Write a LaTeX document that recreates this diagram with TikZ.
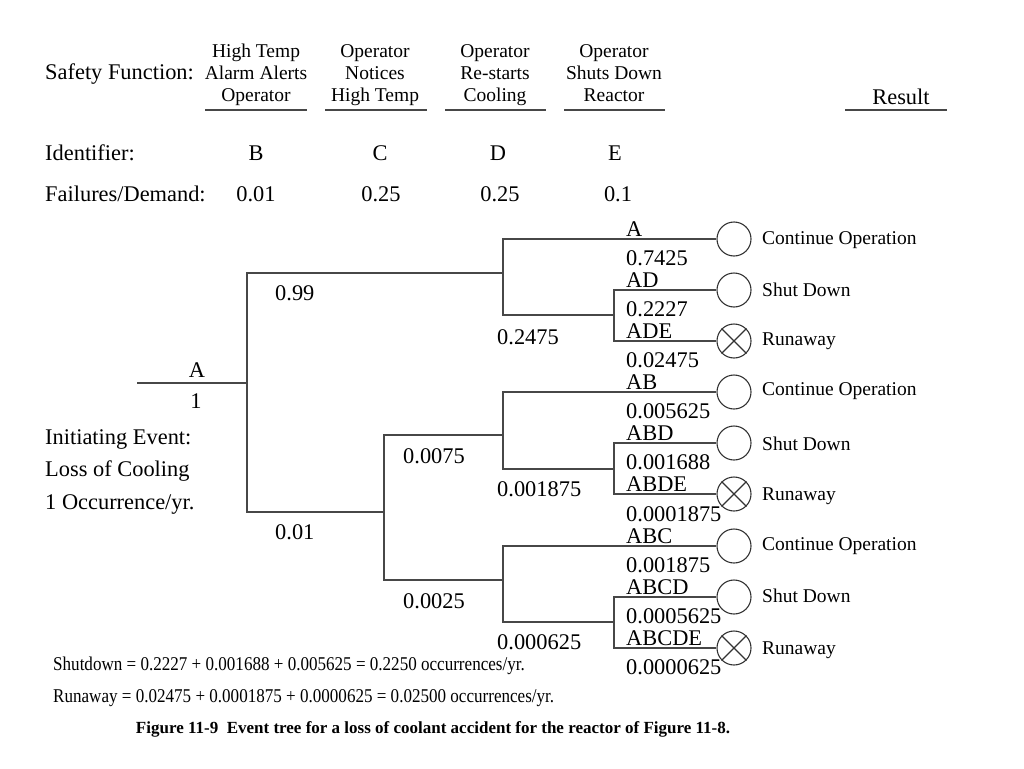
\documentclass[tikz,border=0pt]{standalone}
\usepackage{fontspec}
\setmainfont{Liberation Serif}
\begin{document}
\begin{tikzpicture}[x=1pt,y=-1pt,
  ln/.style={draw=black!72,line width=1.5pt},
  endc/.style={circle,draw=black!80,line width=1.1pt,minimum size=34pt,inner sep=0pt},
  big/.style={font=\fontsize{22.4}{26}\selectfont,inner sep=0pt},
  hdr/.style={font=\fontsize{19.5}{22}\selectfont,inner sep=0pt,align=center,anchor=north},
  res/.style={font=\fontsize{19.5}{22}\selectfont,inner sep=0pt,anchor=west},
  seq/.style={font=\fontsize{22.4}{26}\selectfont,inner sep=0pt,anchor=base west},
  foot/.style={font=\fontsize{19.5}{22}\selectfont,inner sep=0pt,anchor=base west}]
\useasboundingbox (0,0) rectangle (1024,768);

% header
\node[big,anchor=base west] (sf) at (45,79.5) {Safety Function:};
\node[hdr] (hB) at (256,42.1) {\strut High Temp\\\strut Alarm Alerts\\\strut Operator};
\node[hdr] (hC) at (375,42.1) {\strut Operator\\\strut Notices\\\strut High Temp};
\node[hdr] (hD) at (495,42.1) {\strut Operator\\\strut Re-starts\\\strut Cooling};
\node[hdr] (hE) at (614,42.1) {\strut Operator\\\strut Shuts Down\\\strut Reactor};
\node[big,anchor=base] (hR) at (901,104) {Result};
\draw[ln] (205,110) -- (307,110);
\draw[ln] (325,110) -- (427,110);
\draw[ln] (445,110) -- (546,110);
\draw[ln] (564,110) -- (665,110);
\draw[ln] (845,110) -- (947,110);

\node[big,anchor=west] (idl) at (45,153) {Identifier:};
\node[big] (iB) at (256,153) {B};
\node[big] (iC) at (380,153) {C};
\node[big] (iD) at (498,153) {D};
\node[big] (iE) at (615,153) {E};

\node[big,anchor=west] (fdl) at (45,194) {Failures/Demand:};
\node[big] (fB) at (256,194) {0.01};
\node[big] (fC) at (381,194) {0.25};
\node[big] (fD) at (500,194) {0.25};
\node[big] (fE) at (618,194) {0.1};

% initiating event
\node[big,anchor=west] (ie1) at (45,439) {Initiating Event:};
\node[big,anchor=west] (ie2) at (45,471) {Loss of Cooling};
\node[big,anchor=west] (ie3) at (45,504) {1 Occurrence/yr.};

% tree coordinates
\coordinate (s) at (137,383);
\coordinate (j0) at (247,383);
\coordinate (j1) at (503,273);
\coordinate (j2) at (384,512);
\coordinate (j3) at (503,435);
\coordinate (j4) at (503,580);
\coordinate (k1) at (614,315);
\coordinate (k2) at (614,469);
\coordinate (k3) at (614,622);

% end circles
\node[endc] (c1) at (734,239) {};
\node[endc] (c2) at (734,290) {};
\node[endc] (c3) at (734,341) {};
\node[endc] (c4) at (734,392) {};
\node[endc] (c5) at (734,443) {};
\node[endc] (c6) at (734,494) {};
\node[endc] (c7) at (734,546) {};
\node[endc] (c8) at (734,597) {};
\node[endc] (c9) at (734,648) {};
\foreach \c in {c3,c6,c9}{
  \draw[black!80,line width=1.1pt] (\c.north west) -- (\c.south east);
  \draw[black!80,line width=1.1pt] (\c.north east) -- (\c.south west);
}

% connectors
\draw[ln] (s) -- (j0);
\draw[ln] (j0) |- (j1);
\draw[ln] (j0) |- (j2);
\draw[ln] (j1) |- (c1.west);
\draw[ln] (j1) |- (k1);
\draw[ln] (k1) |- (c2.west);
\draw[ln] (k1) |- (c3.west);
\draw[ln] (j2) |- (j3);
\draw[ln] (j2) |- (j4);
\draw[ln] (j3) |- (c4.west);
\draw[ln] (j3) |- (k2);
\draw[ln] (k2) |- (c5.west);
\draw[ln] (k2) |- (c6.west);
\draw[ln] (j4) |- (c7.west);
\draw[ln] (j4) |- (k3);
\draw[ln] (k3) |- (c8.west);
\draw[ln] (k3) |- (c9.west);

% branch labels
\node[big] (lA) at (197,370) {A};
\node[big] (l1) at (196,401) {1};
\node[big,anchor=west] (b99) at (275,293) {0.99};
\node[big,anchor=west] (b01) at (275,532) {0.01};
\node[big,anchor=west] (b0075) at (403,456) {0.0075};
\node[big,anchor=west] (b0025) at (403,601) {0.0025};
\node[big,anchor=west] (b2475) at (497,337) {0.2475};
\node[big,anchor=west] (b1875) at (497,489) {0.001875};
\node[big,anchor=west] (b0625) at (497,642) {0.000625};

% sequence labels
\node[seq] (s1a) at (626,236) {A};
\node[seq] (s1b) at (626,265.5) {0.7425};
\node[seq] (s2a) at (626,287) {AD};
\node[seq] (s2b) at (626,316.5) {0.2227};
\node[seq] (s3a) at (626,338) {ADE};
\node[seq] (s3b) at (626,367.5) {0.02475};
\node[seq] (s4a) at (626,389) {AB};
\node[seq] (s4b) at (626,418.5) {0.005625};
\node[seq] (s5a) at (626,440) {ABD};
\node[seq] (s5b) at (626,469.5) {0.001688};
\node[seq] (s6a) at (626,491) {ABDE};
\node[seq] (s6b) at (626,521) {0.0001875};
\node[seq] (s7a) at (626,543) {ABC};
\node[seq] (s7b) at (626,572.5) {0.001875};
\node[seq] (s8a) at (626,594) {ABCD};
\node[seq] (s8b) at (626,623.5) {0.0005625};
\node[seq] (s9a) at (626,645) {ABCDE};
\node[seq] (s9b) at (626,674.5) {0.0000625};

% results
\node[res] (r1) at (762,240) {Continue Operation};
\node[res] (r2) at (762,290) {Shut Down};
\node[res] (r3) at (762,341) {Runaway};
\node[res] (r4) at (762,391) {Continue Operation};
\node[res] (r5) at (762,444) {Shut Down};
\node[res] (r6) at (762,496) {Runaway};
\node[res] (r7) at (762,546) {Continue Operation};
\node[res] (r8) at (762,596) {Shut Down};
\node[res] (r9) at (762,650) {Runaway};

% footer
\node[foot] (ft1) at (53,670.5) {\scalebox{0.875}[1]{Shutdown = 0.2227 + 0.001688 + 0.005625 = 0.2250 occurrences/yr.}};
\node[foot] (ft2) at (53,702.5) {\scalebox{0.875}[1]{Runaway = 0.02475 + 0.0001875 + 0.0000625 = 0.02500 occurrences/yr.}};
\node[inner sep=0pt,font=\fontsize{17}{20}\selectfont\bfseries,anchor=base] (cap) at (433,733) {Figure 11-9\ \ Event tree for a loss of coolant accident for the reactor of Figure 11-8.};
\end{tikzpicture}
\end{document}
